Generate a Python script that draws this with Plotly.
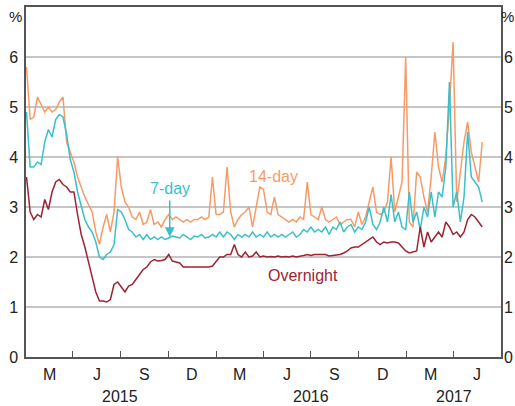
import pandas as pd
import plotly.graph_objects as go

# weekly observations (Fridays), Jan 2015 to May 2017
dates = pd.date_range("2015-01-02", periods=126, freq="7D")

overnight = [
    3.6, 2.9, 2.75, 2.85, 2.8, 3.15, 2.95, 3.3, 3.5, 3.55,
    3.45, 3.4, 3.3, 3.3, 2.85, 2.45, 2.2, 1.9, 1.6, 1.3,
    1.12, 1.12, 1.1, 1.15, 1.45, 1.5, 1.4, 1.3, 1.42, 1.45,
    1.55, 1.65, 1.75, 1.8, 1.9, 1.95, 1.92, 1.93, 1.95, 2.05,
    1.92, 1.9, 1.88, 1.8, 1.8, 1.8, 1.8, 1.79, 1.8, 1.8,
    1.8, 1.82, 1.9, 2.0, 2.0, 2.05, 2.05, 2.25, 2.05, 2.0,
    2.1, 2.0, 2.02, 2.1, 2.0, 2.02, 2.0, 2.01, 2.0, 2.02,
    2.0, 2.01, 2.0, 2.02, 2.0, 2.01, 2.03, 2.05, 2.03, 2.05,
    2.05, 2.06, 2.05, 2.02, 2.03, 2.05, 2.05, 2.08, 2.12, 2.18,
    2.2, 2.2, 2.25, 2.3, 2.35, 2.4, 2.3, 2.25, 2.3, 2.28,
    2.3, 2.3, 2.28, 2.2, 2.12, 2.08, 2.1, 2.12, 2.6, 2.2,
    2.5, 2.3, 2.4, 2.5, 2.4, 2.7, 2.6, 2.45, 2.5, 2.4,
    2.5, 2.75, 2.85, 2.8, 2.7, 2.6,
]

seven_day = [
    4.9, 3.8, 3.8, 3.9, 3.85, 4.3, 4.55, 4.4, 4.75, 4.85,
    4.8, 4.45, 3.95, 3.7, 3.3, 3.0, 2.75, 2.6, 2.5, 2.3,
    2.0, 1.95, 2.05, 2.1, 2.25, 2.95, 2.9, 2.75, 2.55, 2.5,
    2.4, 2.45, 2.35, 2.45, 2.35, 2.4, 2.35, 2.4, 2.35, 2.38,
    2.42, 2.4, 2.38, 2.45, 2.4, 2.35, 2.42, 2.4, 2.45, 2.38,
    2.4, 2.45, 2.4, 2.5, 2.4, 2.5, 2.45, 2.35, 2.45, 2.4,
    2.45, 2.4, 2.5, 2.4, 2.45, 2.4, 2.5, 2.4, 2.45, 2.4,
    2.45, 2.4, 2.45, 2.5, 2.4, 2.45, 2.55, 2.5, 2.6, 2.5,
    2.55, 2.5, 2.6, 2.45, 2.6, 2.55, 2.7, 2.5, 2.6, 2.65,
    2.5, 2.6, 2.55, 2.7, 3.0, 2.65, 2.55, 2.7, 3.0, 2.7,
    3.25, 2.7, 2.9, 2.6, 2.55, 3.3, 2.7, 2.9, 2.55, 3.0,
    2.8, 3.3, 2.8, 3.3, 3.2, 3.8, 5.5, 3.0, 3.3, 2.7,
    3.2, 4.5, 3.6, 3.5, 3.4, 3.1,
]

fourteen_day = [
    5.8, 4.75, 4.8, 5.2, 5.05, 4.9, 5.0, 4.9, 4.95, 5.1,
    5.2, 4.3, 4.1, 3.9, 3.6, 3.4, 3.2, 3.05, 2.9, 2.5,
    2.25, 2.6, 2.85, 2.5, 2.9, 4.0, 3.4, 3.1, 3.0, 2.8,
    2.75, 2.9, 2.65, 2.7, 2.95, 2.65, 2.7, 2.6, 2.75, 2.85,
    2.75, 2.8, 2.75, 2.7, 2.75, 2.7, 2.75, 2.75, 2.8, 2.75,
    2.8, 3.6, 2.85, 2.85, 2.9, 3.8, 2.9, 2.6, 2.75, 2.85,
    2.9, 3.0, 2.6, 3.0, 3.4, 3.35, 2.9, 2.85, 3.2, 2.85,
    2.8, 2.75, 2.7, 2.75, 2.7, 2.8, 2.75, 3.5, 2.85, 2.8,
    2.75, 3.0, 2.75, 2.7, 2.75, 2.8, 2.65, 2.7, 2.75, 2.75,
    2.6, 2.9, 2.65, 2.8, 3.1, 3.4, 2.9, 2.85, 2.9, 3.1,
    4.0, 2.9, 3.2, 3.5, 6.0, 2.7, 2.6, 3.7, 3.6, 3.2,
    2.9, 3.6, 4.5, 3.8, 3.5, 4.0, 5.0, 6.3, 3.1, 3.7,
    4.3, 4.7, 4.1, 3.8, 3.5, 4.3,
]

# axis labels
quarter_ticks = pd.date_range("2015-01-01", "2017-07-01", freq="QS")
quarter_labels = ["M", "J", "S", "D"] * 3
year_labels = ["2015", "2016", "2017"]
year_pos = ["2015-07-01", "2016-07-01", "2017-04-01"]

ORANGE = "#f79b66"
TEAL = "#3bbfcb"
RED = "#9e2332"
AXIS = "#555555"
GRID = "#c6c6c6"
TEXT = "#222222"
FONT = "Arial, Liberation Sans, sans-serif"

fig = go.Figure()
fig.add_trace(go.Scatter(x=dates, y=fourteen_day, mode="lines", name="14-day",
                         line=dict(color=ORANGE, width=1.5)))
fig.add_trace(go.Scatter(x=dates, y=seven_day, mode="lines", name="7-day",
                         line=dict(color=TEAL, width=1.5)))
fig.add_trace(go.Scatter(x=dates, y=overnight, mode="lines", name="Overnight",
                         line=dict(color=RED, width=1.5)))
# invisible trace so the right-hand axis is drawn
fig.add_trace(go.Scatter(x=[dates[0]], y=[0], yaxis="y2", mode="markers",
                         marker=dict(opacity=0), hoverinfo="skip"))

annotations = []
# month letters centred in each quarter
for i, lab in enumerate(quarter_labels[:len(quarter_ticks) - 1]):
    mid = quarter_ticks[i] + (quarter_ticks[i + 1] - quarter_ticks[i]) / 2
    annotations.append(dict(x=mid, y=-0.019, xref="x", yref="paper", text=lab,
                            showarrow=False, yanchor="top",
                            font=dict(size=16, color=TEXT)))
for lab, pos in zip(year_labels, year_pos):
    annotations.append(dict(x=pos, y=-0.084, xref="x", yref="paper", text=lab,
                            showarrow=False, yanchor="top",
                            font=dict(size=16, color=TEXT)))
# % unit labels
annotations.append(dict(x=-0.022, y=1.003, xref="paper", yref="paper", text="%",
                        showarrow=False, xanchor="center", yanchor="top",
                        font=dict(size=15, color=TEXT)))
annotations.append(dict(x=1.0147, y=1.003, xref="paper", yref="paper", text="%",
                        showarrow=False, xanchor="center", yanchor="top",
                        font=dict(size=15, color=TEXT)))
# series labels
annotations.append(dict(x="2016-04-20", y=3.62, text="14-day", showarrow=False,
                        font=dict(size=16, color=ORANGE)))
annotations.append(dict(x="2015-10-04", y=3.38, text="7-day", showarrow=False,
                        font=dict(size=16, color=TEAL)))
annotations.append(dict(x="2015-10-04", y=2.4, text="", showarrow=True,
                        ax=0, ay=-38, arrowhead=2, arrowsize=1.3,
                        arrowwidth=1.5, arrowcolor=TEAL))
annotations.append(dict(x="2016-06-16", y=1.64, text="Overnight", showarrow=False,
                        font=dict(size=16, color=RED)))

fig.update_layout(
    width=515, height=406,
    margin=dict(l=26, r=14, t=7, b=49, autoexpand=False),
    paper_bgcolor="white", plot_bgcolor="white",
    showlegend=False,
    font=dict(family=FONT, size=16, color=TEXT),
    annotations=annotations,
    xaxis=dict(
        type="date", range=["2015-01-01", "2017-07-01"],
        tickvals=quarter_ticks, showticklabels=False, automargin=False,
        ticks="inside", ticklen=6, tickwidth=1, tickcolor=AXIS,
        showgrid=False, showline=True, linecolor=AXIS, linewidth=1.5,
        mirror=True, zeroline=False,
    ),
    yaxis=dict(
        range=[0, 7], tickvals=[0, 1, 2, 3, 4, 5, 6], automargin=False,
        showgrid=True, gridcolor=GRID, gridwidth=1.5,
        showline=True, linecolor=AXIS, linewidth=1.5, mirror=True,
        zeroline=False, ticks="", ticklabelstandoff=3,
        ticklabeloverflow="allow",
        tickfont=dict(size=16, color=TEXT),
    ),
    yaxis2=dict(
        range=[0, 7], tickvals=[0, 1, 2, 3, 4, 5, 6], overlaying="y",
        side="right", showgrid=False, showline=False, zeroline=False,
        automargin=False, ticks="", ticklabelstandoff=2,
        ticklabeloverflow="allow",
        tickfont=dict(size=16, color=TEXT),
    ),
)

# drop the page's default body margin so the figure fills the window
fig.write_html("out.html", config={"displayModeBar": False},
               post_script="document.body.style.margin='0px';")
